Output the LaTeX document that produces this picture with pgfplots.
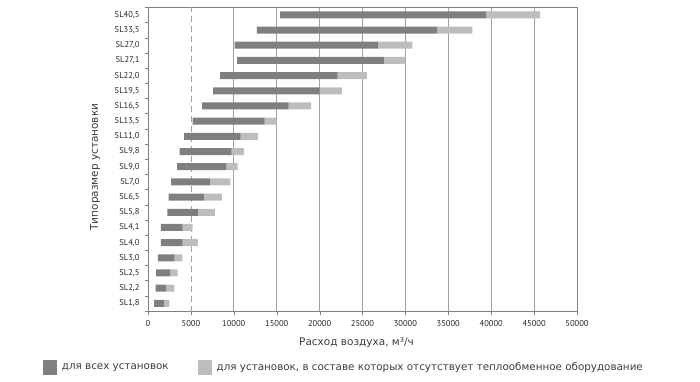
\documentclass[border=0pt]{standalone}
\usepackage{fontspec}
\setmainfont{DejaVu Sans}
\newfontfamily\tickfont{PT Sans}
\usepackage{pgfplots}
\pgfplotsset{compat=1.18}
\usepackage{pgfplotstable}
\definecolor{darkbar}{HTML}{7F7F7F}
\definecolor{lightbar}{HTML}{BDBDBD}
\definecolor{gridc}{HTML}{A0A0A0}
\definecolor{axisc}{HTML}{808080}
\definecolor{textc}{HTML}{3C3C3C}
% pos, start of bar, dark part length, light part length
\pgfplotstableread{
pos start dark light
0  700   1160  640
1  900   1200  970
2  950   1650  850
3  1150  1950  900
4  1500  2550  1750
5  1500  2550  1150
6  2250  3550  2000
7  2400  4100  2100
8  2700  4500  2400
9  3400  5700  1350
10 3700  6050  1450
11 4200  6600  2000
12 5200  8400  1400
13 6300  10100 2600
14 7600  12400 2600
15 8400  13700 3400
16 10400 17100 2500
17 10100 16700 4000
18 12700 21000 4100
19 15400 24000 6300
}\datatable

\begin{document}
\begin{tikzpicture}
\useasboundingbox (-148pt,-70.3pt) rectangle (552pt,311.7pt);
\begin{axis}[
  at={(0pt,0pt)}, anchor=south west,
  scale only axis, width=429pt, height=304.4pt,
  xbar stacked, bar width=7pt,
  xmin=0, xmax=50000, ymin=-0.55, ymax=19.5,
  xtick={0,10000,15000,20000,25000,30000,35000,40000,45000,50000},
  extra x ticks={5000},
  extra x tick style={grid style={gridc, line width=0.8pt, dash pattern=on 6pt off 4pt}},
  scaled x ticks=false,
  /pgf/number format/1000 sep={},
  /pgf/number format/assume math mode=true,
  xmajorgrids, grid style={gridc, line width=0.8pt},
  ytick={0,...,19},
  yticklabels={{SL1,8},{SL2,2},{SL2,5},{SL3,0},{SL4,0},{SL4,1},{SL5,8},{SL6,5},{SL7,0},{SL9,0},{SL9,8},{SL11,0},{SL13,5},{SL16,5},{SL19,5},{SL22,0},{SL27,1},{SL27,0},{SL33,5},{SL40,5}},
  minor ytick={-0.5,0.5,...,19.5},
  major tick length=3pt, minor tick length=3pt,
  tick align=outside,
  ytick pos=left, xtick pos=bottom,
  tick style={axisc},
  major y tick style={draw=none},
  axis line style={axisc},
  x tick label style={font=\tickfont\fontsize{8.5}{10}\selectfont, text=black!85, yshift=-2pt},
  y tick label style={font=\tickfont\fontsize{8.5}{10}\selectfont, text=black!85, xshift=-2pt},
  xlabel={Расход воздуха, м³/ч},
  ylabel={Типоразмер установки},
  label style={font=\fontsize{10.5}{12}\selectfont, text=textc},
  x label style={at={(axis description cs:0.486,-0.103)}, anchor=center},
  y label style={at={(axis description cs:-0.1235,0.475)}, anchor=center},
  legend columns=2,
  legend style={at={(axis description cs:-0.2455,-0.183)}, anchor=west, draw=none, fill=none, inner sep=0pt,
    font=\fontsize{10.35}{12}\selectfont, text=textc,
    /tikz/every odd column/.append style={column sep=3pt},
    /tikz/every even column/.append style={column sep=27pt}},
  legend cell align=left,
  legend image code/.code={\fill[#1] (0pt,-7.5pt) rectangle (14pt,7.5pt);},
]
\addplot[draw=none, fill=none, forget plot] table[x=start, y=pos] {\datatable};
\addplot[draw=none, fill=darkbar] table[x=dark, y=pos] {\datatable};
\addlegendentry{для всех установок}
\addplot[draw=none, fill=lightbar] table[x=light, y=pos] {\datatable};
\addlegendentry{для установок, в составе которых отсутствует теплообменное оборудование}
\end{axis}
\end{tikzpicture}
\end{document}
